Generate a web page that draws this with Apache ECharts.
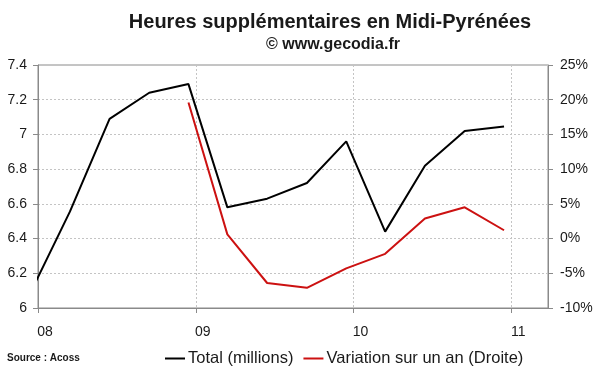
<!DOCTYPE html>
<html>
<head>
<meta charset="utf-8">
<script src="https://cdn.jsdelivr.net/npm/echarts@6/dist/echarts.min.js"></script>
<style>
html,body{margin:0;padding:0;background:#fff;}
#chart{width:600px;height:372px;}
</style>
</head>
<body>
<div id="chart"></div>
<script>
// Quarterly observations (mid-month of quarter end)
const dates = ["2007-12-15","2008-03-15","2008-06-15","2008-09-15","2008-12-15","2009-03-15","2009-06-15","2009-09-15","2009-12-15","2010-03-15","2010-06-15","2010-09-15","2010-12-15"];
const totalMillions = [6.09, 6.555, 7.09, 7.24, 7.29, 6.58, 6.63, 6.72, 6.96, 6.44, 6.82, 7.02, 7.045];
const variationPct = [null, null, null, null, 19.6, 0.6, -6.4, -7.1, -4.3, -2.2, 2.9, 4.5, 1.2];
const yearTickLabels = ["08", "09", "10", "11"];
const leftTicks = {min: 6, max: 7.4, interval: 0.2};
const rightTicks = {min: -10, max: 25, interval: 5};

// convert a date string to years elapsed since 2008-01-01
function yearsSince2008(s) {
  const d = new Date(s + "T00:00:00Z");
  const y = d.getUTCFullYear();
  const start = Date.UTC(y, 0, 1), end = Date.UTC(y + 1, 0, 1);
  return (y - 2008) + (d.getTime() - start) / (end - start);
}
const xs = dates.map(yearsSince2008);
const totalData = xs.map((x, i) => [x, totalMillions[i]]);
const varData = xs.map((x, i) => [x, variationPct[i]]).filter(p => p[1] !== null);

const FONT = "'Liberation Sans', Arial, sans-serif";
const chart = echarts.init(document.getElementById('chart'), null, {renderer: 'canvas'});
chart.setOption({
  animation: false,
  backgroundColor: '#ffffff',
  textStyle: {fontFamily: FONT},
  grid: {left: 38, right: 52, top: 65, bottom: 64, show: true, borderColor: '#8a8a8a', borderWidth: 1, containLabel: false},
  graphic: [
    {type: 'text', x: 330, y: 22, style: {text: 'Heures supplémentaires en Midi-Pyrénées', font: "bold 20px 'Liberation Sans', Arial, sans-serif", fill: '#1a1a1a', textAlign: 'center', textVerticalAlign: 'middle'}},
    {type: 'text', x: 333, y: 45, style: {text: '© www.gecodia.fr', font: "bold 16px 'Liberation Sans', Arial, sans-serif", fill: '#1a1a1a', textAlign: 'center', textVerticalAlign: 'middle'}},
    {type: 'text', x: 7, y: 358, style: {text: 'Source : Acoss', font: "bold 10px 'Liberation Sans', Arial, sans-serif", fill: '#1a1a1a', textAlign: 'left', textVerticalAlign: 'middle'}}
  ],
  legend: {
    left: 160, top: 345,
    icon: 'rect', itemWidth: 20, itemHeight: 2, itemGap: 10,
    textStyle: {fontFamily: FONT, fontSize: 16.5, color: '#1a1a1a', padding: [0, 0, 0, -2]},
    data: ['Total (millions)', 'Variation sur un an (Droite)']
  },
  xAxis: {
    type: 'value', min: 0, max: 3.232, interval: 1,
    axisLine: {show: true, onZero: false, lineStyle: {color: '#8a8a8a', width: 1}},
    axisTick: {show: true, length: 5, lineStyle: {color: '#8a8a8a'}},
    axisLabel: {fontFamily: FONT, fontSize: 14, color: '#1a1a1a', margin: 17, padding: [0, 0, 0, 14],
      showMaxLabel: false,
      formatter: v => (Math.abs(v - Math.round(v)) < 1e-6 ? (yearTickLabels[Math.round(v)] || '') : '')},
    splitLine: {show: true, lineStyle: {color: '#c4c4c4', type: [2, 2], width: 1}}
  },
  yAxis: [
    {type: 'value', min: leftTicks.min, max: leftTicks.max, interval: leftTicks.interval, position: 'left',
      axisLine: {show: true, lineStyle: {color: '#8a8a8a'}},
      axisTick: {show: true, length: 5, lineStyle: {color: '#8a8a8a'}},
      axisLabel: {fontFamily: FONT, fontSize: 14, color: '#1a1a1a', margin: 11,
        formatter: v => String(Math.round(v * 10) / 10)},
      splitLine: {show: true, lineStyle: {color: '#c4c4c4', type: [2, 2], width: 1}}},
    {type: 'value', min: rightTicks.min, max: rightTicks.max, interval: rightTicks.interval, position: 'right',
      axisLine: {show: true, lineStyle: {color: '#8a8a8a'}},
      axisTick: {show: true, length: 5, lineStyle: {color: '#8a8a8a'}},
      axisLabel: {fontFamily: FONT, fontSize: 14, color: '#1a1a1a', margin: 12, formatter: v => v + '%'},
      splitLine: {show: false}}
  ],
  series: [
    {name: 'Total (millions)', type: 'line', yAxisIndex: 0, data: totalData, symbol: 'none', clip: true,
      lineStyle: {color: '#000000', width: 2}, itemStyle: {color: '#000000'}},
    {name: 'Variation sur un an (Droite)', type: 'line', yAxisIndex: 1, data: varData, symbol: 'none', clip: true,
      lineStyle: {color: '#cc1111', width: 2}, itemStyle: {color: '#cc1111'}}
  ]
});
</script>
</body>
</html>
